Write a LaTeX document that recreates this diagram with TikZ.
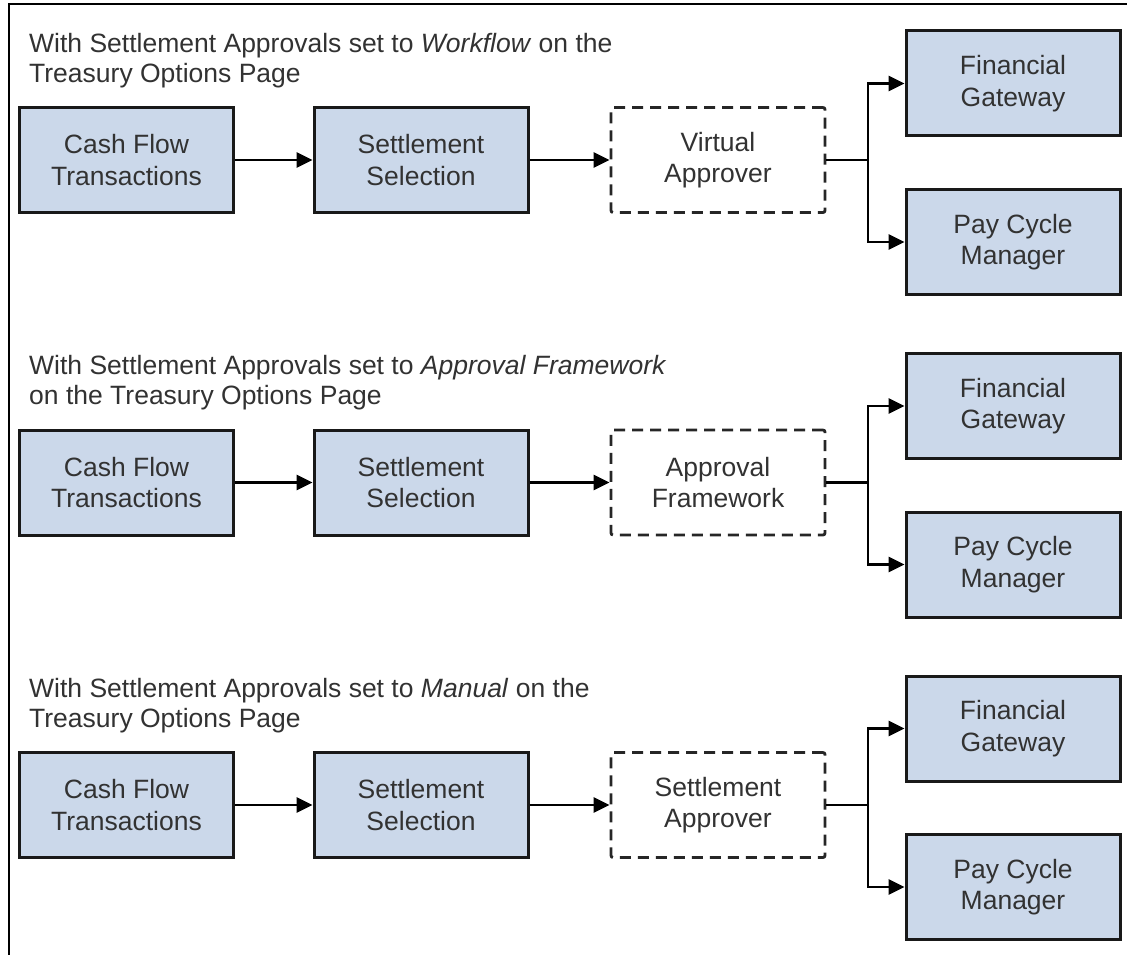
\documentclass[tikz,border=0pt]{standalone}
\usepackage{fontspec}
\setmainfont{Liberation Sans}
\usetikzlibrary{arrows.meta}
\definecolor{boxfill}{RGB}{203,216,234}
\definecolor{txt}{RGB}{50,50,50}
\begin{document}
\begin{tikzpicture}[x=1pt,y=-1pt,
  every node/.style={font=\fontsize{26.5}{31.5}\selectfont, text=txt},
  solidbox/.style={draw=black!90, line width=3pt, fill=boxfill, minimum width=214pt, minimum height=105pt, align=center, inner sep=0pt},
  dashbox/.style={draw=black!85, line width=2.8pt, dash pattern=on 11pt off 7pt, minimum width=214pt, minimum height=105pt, align=center, rounded corners=2pt, inner sep=0pt},
  titletext/.style={anchor=north west, align=left, inner sep=0pt, font=\fontsize{26.5}{30}\selectfont},
  conn/.style={line width=2.8pt, -{Triangle[length=16pt,width=15pt]}},
  plainline/.style={line width=2.8pt}]
\useasboundingbox (0,0) rectangle (1127,955);
\fill[white] (0,0) rectangle (1127,955);
\draw[line width=1.5pt] (9,955) -- (9,4) -- (1127,4);
\foreach \i/\oy/\ttl/\mtxt in {
  1/0/{With Settlement Approvals set to \textit{Workflow} on the\\Treasury Options Page}/{Virtual\\Approver},
  2/322.5/{With Settlement Approvals set to \textit{Approval Framework}\\on the Treasury Options Page}/{Approval\\Framework},
  3/645/{With Settlement Approvals set to \textit{Manual} on the\\Treasury Options Page}/{Settlement\\Approver}}
{
  \node[titletext] (title\i) at (29,33+\oy) {\ttl};
  \node[solidbox] (cf\i) at (126.5,160+\oy) {Cash Flow\\Transactions};
  \node[solidbox] (ss\i) at (421,160+\oy) {Settlement\\Selection};
  \node[dashbox] (mid\i) at (718,160+\oy) {\mtxt};
  \node[solidbox] (fg\i) at (1013,83.5+\oy) {Financial\\Gateway};
  \node[solidbox] (pc\i) at (1013,242+\oy) {Pay Cycle\\Manager};
  \coordinate (j\i) at (868,160+\oy);
  \draw[conn] (cf\i.east) -- (ss\i.west);
  \draw[conn] (ss\i.east) -- (mid\i.west);
  \draw[plainline] (mid\i.east) -- (j\i);
  \draw[conn] (j\i) |- (fg\i.west);
  \draw[conn] (j\i) |- (pc\i.west);
}
\end{tikzpicture}
\end{document}
